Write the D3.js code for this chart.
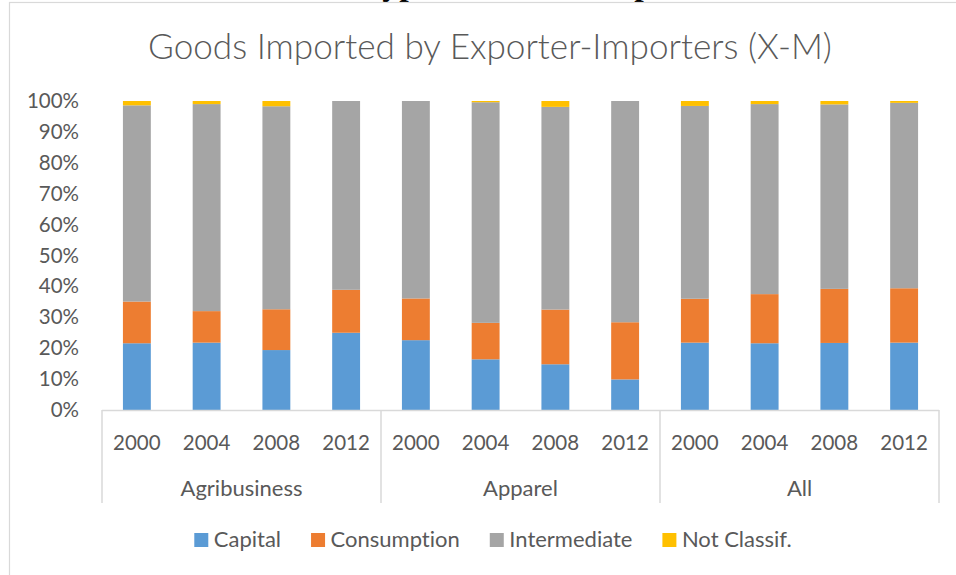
<!DOCTYPE html>
<html>
<head>
<meta charset="utf-8">
<script src="https://cdn.jsdelivr.net/npm/d3@7"></script>
<style>
  html, body { margin: 0; padding: 0; background: #fff; }
  svg { display: block; }
  text { font-family: Lato, "Open Sans", sans-serif; fill: #595959; font-variant-ligatures: none; font-feature-settings: "liga" 0, "clig" 0; }
</style>
</head>
<body>
<svg id="chart" width="956" height="575"></svg>
<script>
// Import composition by sector and year (shares, %)
const sectors = ["Agribusiness", "Apparel", "All"];
const years = ["2000", "2004", "2008", "2012"];
const seriesNames = ["Capital", "Consumption", "Intermediate", "Not Classif."];
const seriesColors = ["#5B9BD5", "#ED7D31", "#A5A5A5", "#FFC000"];

// One value per sector-year, ordered Agribusiness 2000..2012, Apparel 2000..2012, All 2000..2012
const capital       = [21.6, 21.8, 19.4, 25.0, 22.6, 16.4, 14.8,  9.9, 21.8, 21.6, 21.7, 21.8];
const consumption   = [13.5, 10.2, 13.2, 13.9, 13.5, 11.8, 17.7, 18.5, 14.2, 15.9, 17.5, 17.6];
const intermediate  = [63.5, 67.0, 65.7, 61.1, 63.9, 71.4, 65.6, 71.6, 62.4, 61.5, 59.7, 60.0];
const notClassified = [ 1.4,  1.0,  1.7,  0.0,  0.0,  0.4,  1.9,  0.0,  1.6,  1.0,  1.1,  0.6];

const yTicks = [0, 10, 20, 30, 40, 50, 60, 70, 80, 90, 100];

const titleText = "Goods Imported by Exporter-Importers (X-M)";
const captionText = "Types of Goods Imported";

// Build rows for stacking
const keys = [];
sectors.forEach(s => years.forEach(y => keys.push(s + "|" + y)));
const rows = keys.map((k, i) => ({
  key: k,
  sector: k.split("|")[0],
  year: k.split("|")[1],
  "Capital": capital[i],
  "Consumption": consumption[i],
  "Intermediate": intermediate[i],
  "Not Classif.": notClassified[i]
}));

const svg = d3.select("#chart");
const plotLeft = 102, plotRight = 939, plotTop = 101, plotBottom = 410;

const x = d3.scaleBand().domain(keys).range([plotLeft, plotRight])
  .paddingInner(0.6).paddingOuter(0.3);
const xGroup = d3.scaleBand().domain(sectors).range([plotLeft, plotRight]);
const y = d3.scaleLinear().domain([0, 100]).range([plotBottom, plotTop]);
const color = d3.scaleOrdinal().domain(seriesNames).range(seriesColors);

// Document caption running off the top edge
svg.append("text")
  .attr("x", 362).attr("y", -5)
  .style("font-family", "'Liberation Serif', 'DejaVu Serif', serif")
  .style("font-weight", "bold")
  .style("font-size", "34px")
  .style("fill", "#000")
  .text(captionText);

// Chart frame
svg.append("rect")
  .attr("x", 9.5).attr("y", 2.5)
  .attr("width", 1000).attr("height", 600)
  .attr("fill", "none").attr("stroke", "#d9d9d9").attr("stroke-width", 1.2);

// Title, fitted to its width
const title = svg.append("text")
  .attr("x", 490).attr("y", 59)
  .attr("text-anchor", "middle")
  .style("font-weight", 300)
  .style("font-size", "34px")
  .text(titleText);
const tw = title.node().getComputedTextLength();
title.style("font-size", (34 * 684 / tw).toFixed(2) + "px");

// Stacked bars
const stack = d3.stack().keys(seriesNames);
const layers = stack(rows);
svg.append("g").selectAll("g")
  .data(layers)
  .join("g")
  .attr("fill", d => color(d.key))
  .selectAll("rect")
  .data(d => d)
  .join("rect")
  .attr("x", d => x(d.data.key))
  .attr("width", x.bandwidth())
  .attr("y", d => y(d[1]))
  .attr("height", d => Math.max(0, y(d[0]) - y(d[1])));

// Y axis labels
const yAxis = svg.append("g")
  .attr("transform", `translate(${plotLeft - 23},0)`)
  .call(d3.axisLeft(y).tickValues(yTicks).tickSize(0).tickPadding(0).tickFormat(d => d + "%"));
yAxis.select(".domain").remove();
yAxis.selectAll("text")
  .style("font-family", "Lato, sans-serif")
  .style("font-size", "20.5px")
  .attr("fill", "#595959");

// X axis: baseline, group separators, year labels, sector labels
svg.append("line")
  .attr("x1", plotLeft).attr("x2", plotRight)
  .attr("y1", plotBottom + 0.5).attr("y2", plotBottom + 0.5)
  .attr("stroke", "#d9d9d9").attr("stroke-width", 1.5);

const bounds = sectors.map(s => xGroup(s)).concat([plotRight]);
svg.append("g").selectAll("line")
  .data(bounds)
  .join("line")
  .attr("x1", d => d).attr("x2", d => d)
  .attr("y1", plotBottom).attr("y2", 503)
  .attr("stroke", "#d9d9d9").attr("stroke-width", 1.5);

const xAxis = svg.append("g")
  .attr("transform", `translate(0,${plotBottom})`)
  .call(d3.axisBottom(x).tickSize(0).tickPadding(0).tickFormat(k => k.split("|")[1]));
xAxis.select(".domain").remove();
xAxis.selectAll("text")
  .attr("dy", null).attr("y", 40)
  .style("font-family", "Lato, sans-serif")
  .style("font-size", "20.5px")
  .attr("fill", "#595959");

svg.append("g").selectAll("text")
  .data(sectors)
  .join("text")
  .attr("x", d => xGroup(d) + xGroup.bandwidth() / 2)
  .attr("y", 496)
  .attr("text-anchor", "middle")
  .style("font-size", "22px")
  .text(d => d);

// Legend
const legend = svg.append("g");
const items = legend.selectAll("g")
  .data(seriesNames)
  .join("g");
items.append("rect")
  .attr("width", 14).attr("height", 14)
  .attr("y", 533)
  .attr("fill", d => color(d));
items.append("text")
  .attr("x", 19.5).attr("y", 547)
  .style("font-size", "22px")
  .text(d => d);
let cx = 0;
const offsets = [];
items.each(function () {
  offsets.push(cx);
  const w = d3.select(this).select("text").node().getComputedTextLength();
  cx += 19.5 + w + 30;
});
const totalW = cx - 30;
const startX = 493 - totalW / 2;
items.attr("transform", (d, i) => `translate(${startX + offsets[i]},0)`);
</script>
</body>
</html>
